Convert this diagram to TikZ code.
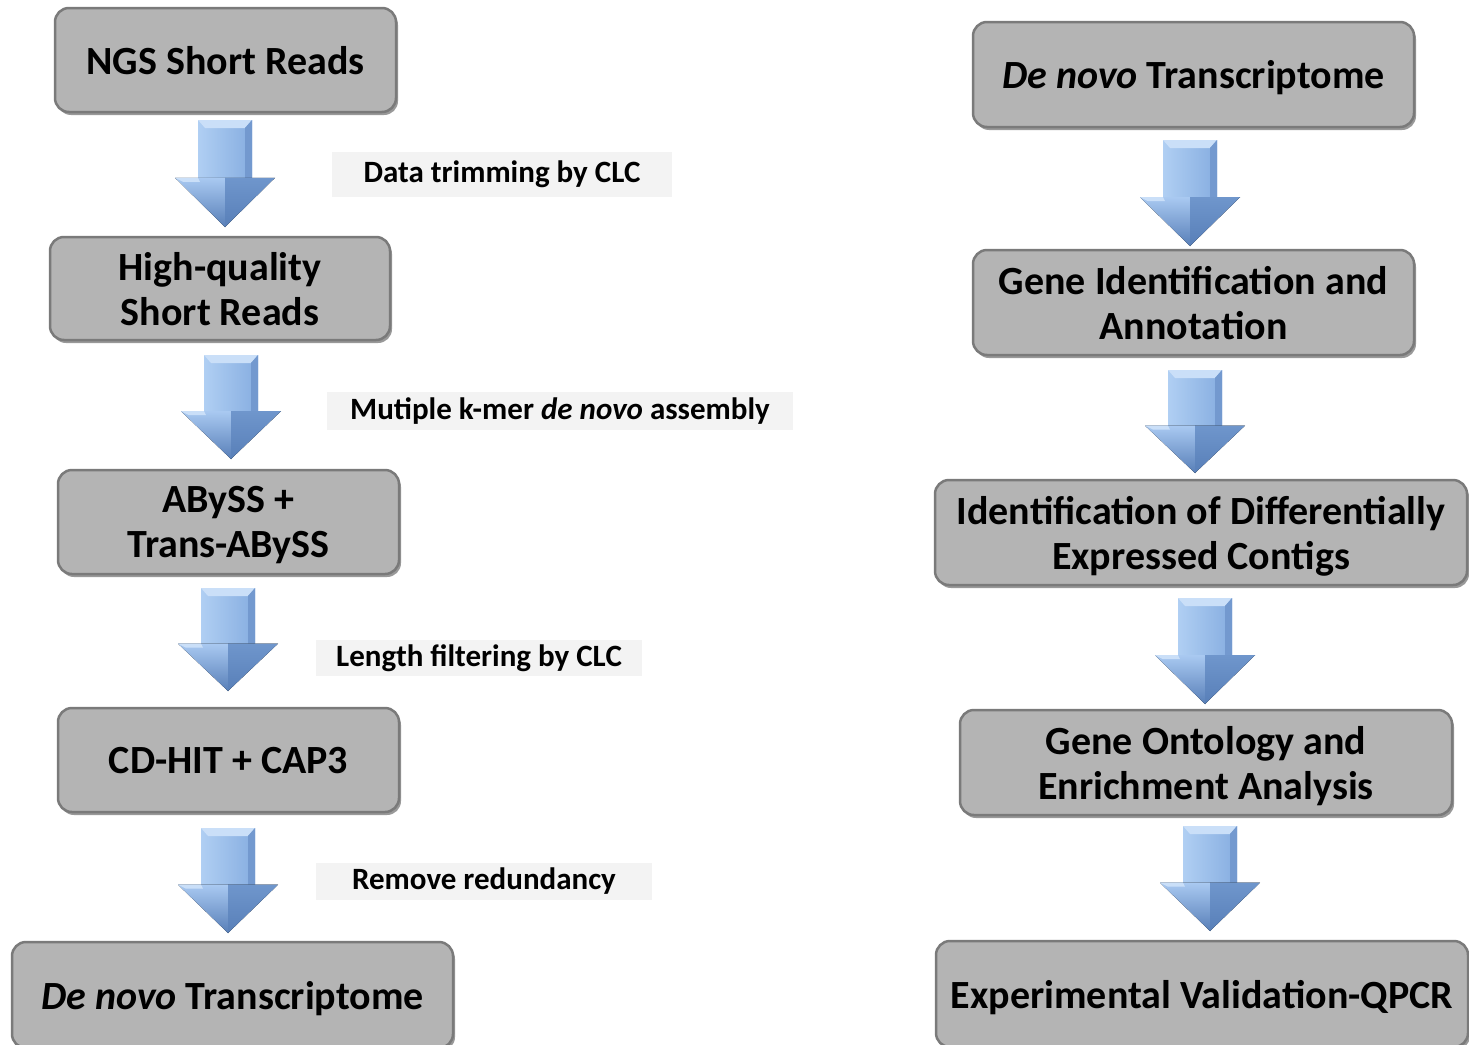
\documentclass[tikz,border=0pt]{standalone}
\usepackage{fontspec}
\setmainfont{Carlito}
\usetikzlibrary{shadows,calc}
\definecolor{boxgray}{HTML}{B4B4B4}
\definecolor{boxedge}{HTML}{7A7A7A}
\definecolor{lblgray}{HTML}{F3F3F3}
\definecolor{arrL}{HTML}{B0CFF3}
\definecolor{arrR}{HTML}{86ADE0}
\definecolor{arrCap}{HTML}{CADFF8}
\definecolor{arrFacet}{HTML}{7399CF}
\definecolor{arrHL}{HTML}{A9C9F1}
\definecolor{arrHD}{HTML}{6F96CC}
\definecolor{arrTip}{HTML}{587FB8}
\tikzset{
  stepbox/.style={rounded corners=14pt, fill=boxgray, draw=boxedge, line width=2.5pt,
    drop shadow={shadow xshift=2pt, shadow yshift=-3pt, opacity=0.4, fill=black},
    font=\bfseries\fontsize{40}{45}\selectfont, align=center, inner sep=0pt, text depth=0pt},
  lbl/.style={fill=lblgray, font=\bfseries\fontsize{31}{34}\selectfont, inner sep=0pt},
}
% block arrow: #1 = centre x, #2 = top y, #3 = bottom y (pixel units)
\newcommand\blockarr[3]{%
  \pgfmathsetmacro\hm{#2+0.54*(#3-#2)}%
  \fill[left color=arrL, right color=arrR] (#1-27,#2) -- (#1+27,#2) -- (#1+27,\hm) -- (#1-27,\hm) -- cycle;
  \fill[arrCap] (#1-27,#2) -- (#1+27,#2) -- (#1+20,#2+8) -- (#1-20,#2+8) -- cycle;
  \fill[arrFacet] (#1+20,#2+8) -- (#1+27,#2) -- (#1+27,\hm) -- (#1+20,\hm) -- cycle;
  \fill[top color=arrHL, bottom color=arrTip] (#1-50,\hm) -- (#1,\hm) -- (#1,#3) -- cycle;
  \fill[top color=arrHD, bottom color=arrTip] (#1,\hm) -- (#1+50,\hm) -- (#1,#3) -- cycle;
  \fill[arrCap] (#1-50,\hm) -- (#1-27,\hm) -- (#1-25,\hm+4) -- (#1-42,\hm+4) -- cycle;
}
\begin{document}
\begin{tikzpicture}[x=1pt,y=-1pt]
\fill[white] (0,0) rectangle (1469,1044);
\useasboundingbox (0,0) rectangle (1469,1044);
% left column
\node[stepbox, minimum width=341, minimum height=104] (n1) at (225.5,60) {NGS Short Reads};
\node[stepbox, minimum width=340, minimum height=103] (n2) at (220,288.5) {High-quality\\Short Reads};
\node[stepbox, minimum width=341, minimum height=104] (n3) at (228.5,522) {ABySS +\\Trans-ABySS};
\node[stepbox, minimum width=341, minimum height=104] (n4) at (228.5,760) {CD-HIT + CAP3};
\node[stepbox, minimum width=441, minimum height=106] (n5) at (232.5,995) {\textit{De novo} Transcriptome};
% right column
\node[stepbox, minimum width=441, minimum height=105] (m1) at (1193.5,74.5) {\textit{De novo} Transcriptome};
\node[stepbox, minimum width=441, minimum height=105] (m2) at (1193.5,302.5) {Gene Identification and\\Annotation};
\node[stepbox, minimum width=532, minimum height=105] (m3) at (1201,532.5) {Identification of Differentially\\Expressed Contigs};
\node[stepbox, minimum width=492, minimum height=105] (m4) at (1206,762.5) {Gene Ontology and\\Enrichment Analysis};
\node[stepbox, minimum width=532, minimum height=106] (m5) at (1202,994) {Experimental Validation-QPCR};
% labels
\node[lbl, minimum width=340, minimum height=45] (l1) at (502,174.5) {Data trimming by CLC};
\node[lbl, minimum width=466, minimum height=38] (l2) at (560,411) {Mutiple k-mer \textit{de novo} assembly};
\node[lbl, minimum width=326, minimum height=36] (l3) at (479,658) {Length filtering by CLC};
\node[lbl, minimum width=336, minimum height=37] (l4) at (484,881.5) {Remove redundancy};
% arrows
\blockarr{225}{120}{227}
\blockarr{231}{355}{459}
\blockarr{228}{588}{691}
\blockarr{228}{828}{933}
\blockarr{1190}{140}{246}
\blockarr{1195}{370}{473}
\blockarr{1205}{598}{704}
\blockarr{1210}{826}{931}
\end{tikzpicture}
\end{document}
